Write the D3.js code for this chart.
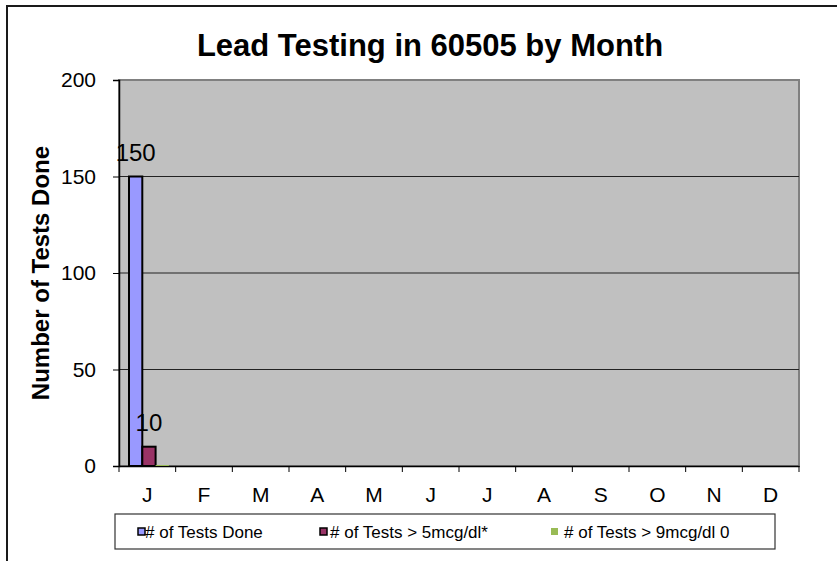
<!DOCTYPE html>
<html lang="en">
<head>
<meta charset="UTF-8">
<title>Lead Testing in 60505 by Month</title>
<script src="https://cdnjs.cloudflare.com/ajax/libs/d3/7.8.5/d3.min.js"></script>
<style>
  body { margin: 0; background: #fff; font-family: Arial, "Liberation Sans", sans-serif; }
  svg { display: block; }
</style>
</head>
<body>
<div id="chart"></div>
<script>
// Data
const months = ["J", "F", "M", "A", "M", "J", "J", "A", "S", "O", "N", "D"];
const seriesNames = ["# of Tests Done", "# of Tests > 5mcg/dl*", "# of Tests > 9mcg/dl 0"];
const testsDone = [150, null, null, null, null, null, null, null, null, null, null, null];
const testsOver5 = [10, null, null, null, null, null, null, null, null, null, null, null];
const testsOver9 = [0, null, null, null, null, null, null, null, null, null, null, null];
const yTicks = [0, 50, 100, 150, 200];
const colors = ["#9999FF", "#993366", "#99BB55"];

const W = 837, H = 561;
const plot = { left: 119, right: 799, top: 80, bottom: 466 };
const font = "Arial, 'Liberation Sans', sans-serif";

const svg = d3.select("#chart").append("svg")
  .attr("width", W).attr("height", H)
  .style("font-family", font);

// outer frame (runs past the window on right and bottom)
svg.append("path")
  .attr("d", `M7,${H + 5} V6 H${W + 5}`)
  .attr("fill", "none").attr("stroke", "#1a1a1a").attr("stroke-width", 2);

const x = d3.scaleBand().domain(d3.range(months.length))
  .range([plot.left, plot.right]);
const y = d3.scaleLinear().domain([0, 200]).range([plot.bottom, plot.top]);

// plot area
svg.append("rect")
  .attr("x", plot.left).attr("y", plot.top)
  .attr("width", plot.right - plot.left).attr("height", plot.bottom - plot.top)
  .attr("fill", "#C0C0C0").attr("stroke", "#808080").attr("stroke-width", 2);

// gridlines
svg.append("g").selectAll("line")
  .data(yTicks.filter(d => d > 0 && d < 200))
  .join("line")
  .attr("x1", plot.left).attr("x2", plot.right)
  .attr("y1", d => y(d)).attr("y2", d => y(d))
  .attr("stroke", "#222").attr("stroke-width", 1);

// y axis
const yAxis = svg.append("g")
  .attr("transform", `translate(${plot.left},0)`)
  .call(d3.axisLeft(y).tickValues(yTicks).tickSize(6).tickPadding(17));
yAxis.select(".domain").attr("stroke", "#000").attr("stroke-width", 1.5);
yAxis.selectAll(".tick line").attr("stroke", "#000");
yAxis.selectAll("text").attr("font-size", 21).attr("fill", "#000")
  .attr("font-family", font);

// x axis
const xAxis = svg.append("g")
  .attr("transform", `translate(0,${plot.bottom})`)
  .call(d3.axisBottom(x).tickSize(0).tickPadding(21).tickFormat(i => months[i]));
xAxis.select(".domain").attr("stroke", "#000").attr("stroke-width", 1.5);
xAxis.selectAll("text").attr("font-size", 21).attr("fill", "#000")
  .attr("font-family", font);
// category boundary ticks
xAxis.append("g").selectAll("line")
  .data(d3.range(months.length + 1))
  .join("line")
  .attr("x1", i => plot.left + i * x.step()).attr("x2", i => plot.left + i * x.step())
  .attr("y1", 0).attr("y2", 6)
  .attr("stroke", "#000");

// bars
const series = [testsDone, testsOver5, testsOver9];
const barW = 13.3;
const groupOffset = 10;

series.forEach((vals, s) => {
  const g = svg.append("g");
  const pts = vals.map((v, i) => ({ v, i })).filter(d => d.v !== null);
  g.selectAll("rect").data(pts).join("rect")
    .attr("x", d => x(d.i) + groupOffset + s * barW)
    .attr("y", d => y(d.v) - (d.v > 0 ? 0 : 1))
    .attr("width", barW)
    .attr("height", d => Math.max(y(0) - y(d.v), 1))
    .attr("fill", colors[s])
    .attr("stroke", d => d.v > 0 ? "#000" : "none")
    .attr("stroke-width", 2);
  if (s < 2) {
    g.selectAll("text").data(pts).join("text")
      .attr("x", d => x(d.i) + groupOffset + s * barW + barW / 2)
      .attr("y", d => y(d.v) - 16)
      .attr("text-anchor", "middle")
      .attr("font-size", 24)
      .text(d => d.v);
  }
});

// title
svg.append("text")
  .attr("x", 430).attr("y", 56)
  .attr("text-anchor", "middle")
  .attr("font-size", 31).attr("font-weight", "bold")
  .text("Lead Testing in 60505 by Month");

// y axis title
svg.append("text")
  .attr("transform", `translate(49,${(plot.top + plot.bottom) / 2}) rotate(-90)`)
  .attr("text-anchor", "middle")
  .attr("font-size", 24).attr("font-weight", "bold")
  .text("Number of Tests Done");

// legend
const legend = svg.append("g");
legend.append("rect")
  .attr("x", 115).attr("y", 514).attr("width", 660).attr("height", 35)
  .attr("fill", "#fff").attr("stroke", "#333").attr("stroke-width", 1.2);
const legendX = [138, 320, 551];
const textX = [145, 330, 564];
seriesNames.forEach((name, s) => {
  legend.append("rect")
    .attr("x", legendX[s]).attr("y", 528).attr("width", 7).attr("height", 7)
    .attr("fill", colors[s])
    .attr("stroke", s < 2 ? "#000" : "none").attr("stroke-width", 1.5);
  legend.append("text")
    .attr("x", textX[s]).attr("y", 537.5)
    .attr("font-size", 17)
    .text(name);
});
</script>
</body>
</html>
